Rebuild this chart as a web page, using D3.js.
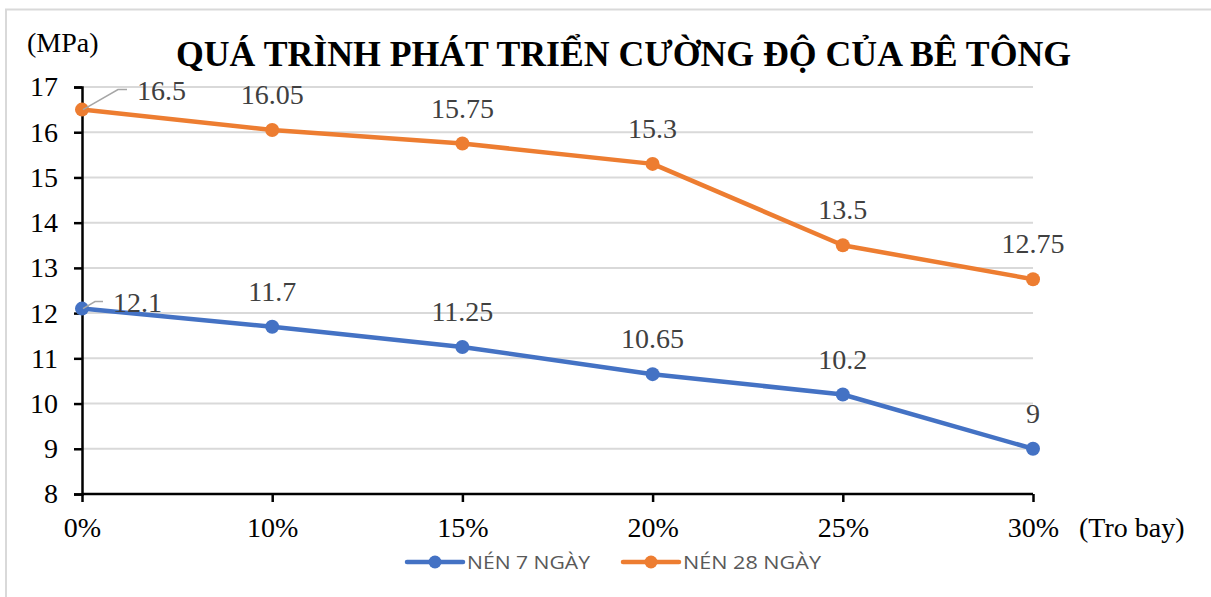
<!DOCTYPE html>
<html>
<head>
<meta charset="utf-8">
<script src="https://cdn.jsdelivr.net/npm/d3@7"></script>
<style>
  html, body { margin: 0; padding: 0; background: #fff; }
  svg { display: block; }
</style>
</head>
<body>
<svg id="chart" width="1211" height="597"></svg>
<script>
// Tỷ lệ tro bay (trục hoành) và cường độ nén (MPa)
const categories = ["0%", "10%", "15%", "20%", "25%", "30%"];
const nen7 = [12.1, 11.7, 11.25, 10.65, 10.2, 9];
const nen28 = [16.5, 16.05, 15.75, 15.3, 13.5, 12.75];
const yTicks = [8, 9, 10, 11, 12, 13, 14, 15, 16, 17];
const seriesNames = ["NÉN 7 NGÀY", "NÉN 28 NGÀY"];
const seriesColors = ["#4472C4", "#ED7D31"];

const svg = d3.select("#chart");
const serif = "'Liberation Serif', 'Times New Roman', serif";
const sans = "'Open Sans', 'Noto Sans', sans-serif";
const fs = 28;

// Khung biểu đồ
svg.append("rect")
  .attr("x", 6).attr("y", 9.5).attr("width", 1230).attr("height", 620)
  .attr("fill", "none").attr("stroke", "#D9D9D9").attr("stroke-width", 2);

const x = d3.scalePoint().domain(categories).range([82, 1033]);
const y = d3.scaleLinear().domain([8, 17]).range([494, 87]);

// Lưới ngang
svg.append("g")
  .selectAll("line")
  .data(yTicks.filter(t => t > 8))
  .join("line")
  .attr("x1", x.range()[0]).attr("x2", x.range()[1])
  .attr("y1", d => y(d)).attr("y2", d => y(d))
  .attr("stroke", "#D9D9D9").attr("stroke-width", 2);

// Trục tung
const yAxis = svg.append("g")
  .attr("transform", `translate(${x.range()[0]},0)`)
  .call(d3.axisLeft(y).tickValues(yTicks).tickSize(8).tickPadding(16).tickFormat(d3.format("d")));
yAxis.select(".domain").attr("stroke", "#000").attr("stroke-width", 2.5);
yAxis.selectAll(".tick line").attr("stroke", "#000").attr("stroke-width", 2.5);
yAxis.selectAll(".tick text")
  .attr("font-family", serif).attr("font-size", fs).attr("fill", "#000");

// Trục hoành
const xAxis = svg.append("g")
  .attr("transform", `translate(0,${y(8)})`)
  .call(d3.axisBottom(x).tickSize(8).tickPadding(15));
xAxis.select(".domain").attr("stroke", "#000").attr("stroke-width", 2.5)
  .attr("d", `M${x.range()[0]},0H${x.range()[1]}`);
xAxis.selectAll(".tick line").attr("stroke", "#000").attr("stroke-width", 2.5);
xAxis.selectAll(".tick text")
  .attr("font-family", serif).attr("font-size", fs).attr("fill", "#000");

// Tên trục
svg.append("text").attr("x", 27).attr("y", 52)
  .attr("font-family", serif).attr("font-size", fs).attr("fill", "#000")
  .text("(MPa)");
svg.append("text").attr("x", 1079).attr("y", 537)
  .attr("font-family", serif).attr("font-size", fs).attr("fill", "#000")
  .text("(Tro bay)");

// Tiêu đề
svg.append("text").attr("x", 176).attr("y", 66)
  .attr("font-family", serif).attr("font-weight", "bold").attr("font-size", 36)
  .attr("textLength", 895).attr("lengthAdjust", "spacingAndGlyphs")
  .attr("fill", "#000")
  .text("QUÁ TRÌNH PHÁT TRIỂN CƯỜNG ĐỘ CỦA BÊ TÔNG");

// Đường dữ liệu
const series = [nen7, nen28];
const line = d3.line().x((d, i) => x(categories[i])).y(d => y(d));

series.forEach((vals, s) => {
  const g = svg.append("g");
  g.append("path").datum(vals)
    .attr("d", line).attr("fill", "none")
    .attr("stroke", seriesColors[s]).attr("stroke-width", 4.5)
    .attr("stroke-linejoin", "round");
  g.selectAll("circle").data(vals).join("circle")
    .attr("cx", (d, i) => x(categories[i])).attr("cy", d => y(d))
    .attr("r", 7).attr("fill", seriesColors[s]);
});

// Nhãn giá trị
series.forEach((vals, s) => {
  const g = svg.append("g");
  vals.forEach((v, i) => {
    const px = x(categories[i]), py = y(v);
    if (i === 0) {
      // Điểm đầu: nhãn đẩy sang phải, có đường dẫn
      const lx = s === 1 ? 118 : 95, ly = s === 1 ? py - 20 : py - 7;
      const ex = s === 1 ? 127 : 103;
      g.append("path")
        .attr("d", `M${px + 1},${py}L${lx},${ly}H${ex}`)
        .attr("fill", "none").attr("stroke", "#A6A6A6").attr("stroke-width", 1.5);
      g.append("text")
        .attr("x", ex + 10).attr("y", ly + 10)
        .attr("font-family", serif).attr("font-size", fs).attr("fill", "#404040")
        .text(v);
    } else {
      g.append("text")
        .attr("x", px).attr("y", py - 26)
        .attr("text-anchor", "middle")
        .attr("font-family", serif).attr("font-size", fs).attr("fill", "#404040")
        .text(v);
    }
  });
});

// Chú thích
const legendX = [407, 623];
const legendLens = [123, 138];
seriesNames.forEach((name, s) => {
  const g = svg.append("g").attr("transform", `translate(${legendX[s]},562)`);
  g.append("line").attr("x1", 0).attr("x2", 56).attr("y1", 0).attr("y2", 0)
    .attr("stroke", seriesColors[s]).attr("stroke-width", 4.5).attr("stroke-linecap", "round");
  g.append("circle").attr("cx", 28).attr("cy", 0).attr("r", 6.5).attr("fill", seriesColors[s]);
  g.append("text").attr("x", 60).attr("y", 7)
    .attr("font-family", sans).attr("font-size", 18).attr("fill", "#595959")
    .attr("textLength", legendLens[s]).attr("lengthAdjust", "spacingAndGlyphs")
    .text(name);
});
</script>
</body>
</html>
